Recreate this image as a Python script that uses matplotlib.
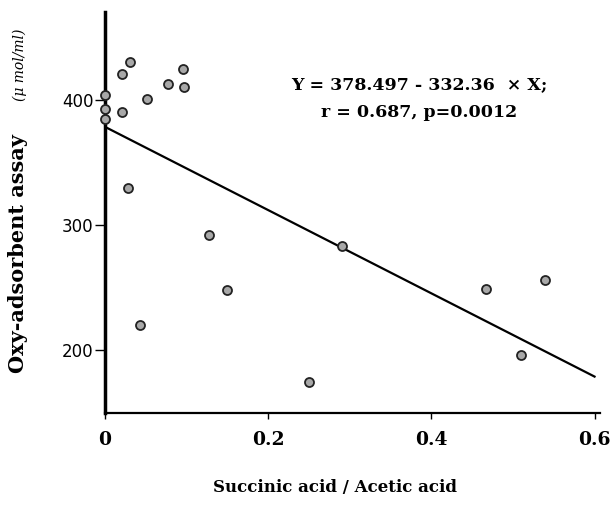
import numpy as np
import matplotlib.pyplot as plt

# ratio succinic / acetic vs oxy-adsorbent assay
ratio = [0.0, 0.0, 0.0, 0.021, 0.021, 0.031, 0.051, 0.077, 0.096, 0.097,
         0.028, 0.043, 0.128, 0.149, 0.250, 0.290, 0.467, 0.510, 0.539]
assay = [404, 393, 385, 390, 421, 430, 401, 413, 425, 410,
         330, 220, 292, 248, 175, 283, 249, 196, 256]
intercept = 378.497
slope = -332.36
xticks = [0, 0.2, 0.4, 0.6]
xticklabels = ['0', '0.2', '0.4', '0.6']
yticks = [200, 300, 400]

fig = plt.figure(figsize=(6.1, 5.08), dpi=100)
ax = fig.add_axes([0.172, 0.187, 0.812, 0.789])

serif = ['DejaVu Serif']

ax.scatter(ratio, assay, s=42, facecolor='#a8a8a8', edgecolor='#222222',
           linewidths=1.3, zorder=3, clip_on=False)
xl = np.array([0, 0.6])
ax.plot(xl, intercept + slope * xl, color='black', lw=1.6, zorder=2)

ax.set_xlim(0, 0.607)
ax.set_ylim(150, 470)
ax.spines['top'].set_visible(False)
ax.spines['right'].set_visible(False)
ax.spines['left'].set_linewidth(2.5)
ax.spines['bottom'].set_linewidth(1.6)

ax.set_xticks(xticks)
ax.set_xticklabels(xticklabels, fontfamily=serif, fontweight='bold', fontsize=13.5)
ax.set_yticks(yticks)
ax.set_yticklabels([str(v) for v in yticks], fontfamily='DejaVu Sans', fontsize=12)
ax.tick_params(axis='x', direction='out', length=4, width=1, pad=9)
ax.tick_params(axis='y', direction='out', length=7, width=1, pad=1)

ax.text(0.385, 412, 'Y = 378.497 - 332.36  \u00d7 X;', ha='center', va='center',
        fontfamily=serif, fontweight='bold', fontsize=12.5)
ax.text(0.385, 390, 'r = 0.687, p=0.0012', ha='center', va='center',
        fontfamily=serif, fontweight='bold', fontsize=12.5)

fig.text(0.549, 0.041, 'Succinic acid / Acetic acid', ha='center', va='center',
         fontfamily=serif, fontweight='bold', fontsize=12)
fig.text(0.03, 0.50, 'Oxy-adsorbent assay', rotation=90, ha='center', va='center',
         fontfamily=serif, fontweight='bold', fontsize=15)
fig.text(0.033, 0.872, '(\u03bc mol/ml)', rotation=90, ha='center', va='center',
         fontfamily=serif, fontstyle='italic', fontsize=10)

fig.savefig('out.png', dpi=100)
